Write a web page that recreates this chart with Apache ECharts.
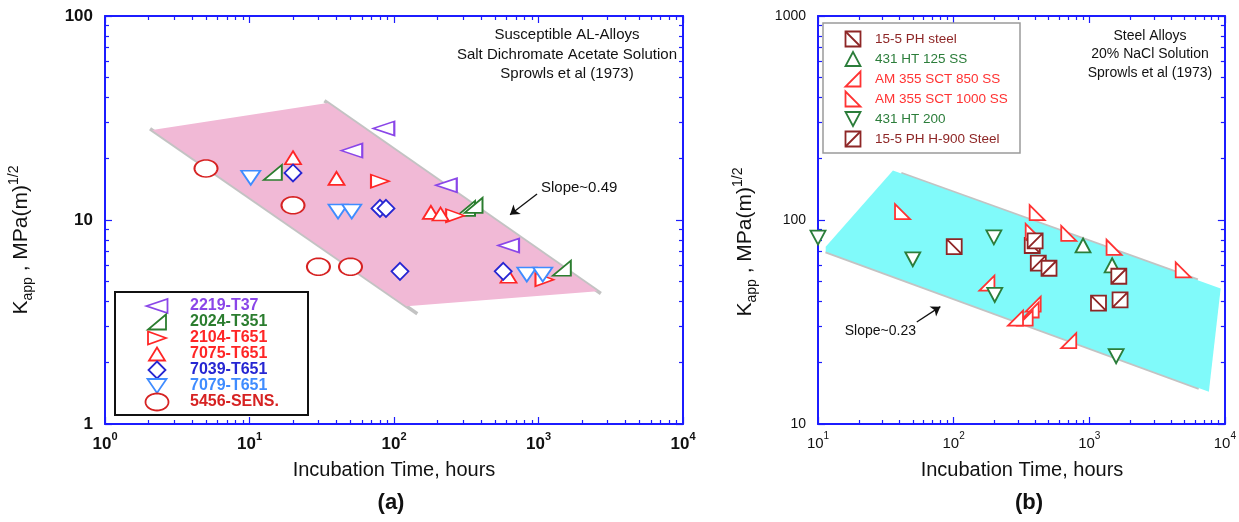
<!DOCTYPE html>
<html>
<head>
<meta charset="utf-8">
<title>Incubation time vs apparent stress intensity</title>
<script src="https://cdn.jsdelivr.net/npm/echarts@6.0.0/dist/echarts.min.js"></script>
<style>
html, body { margin: 0; padding: 0; background: #ffffff; }
#chart { width: 1239px; height: 522px; }
</style>
</head>
<body>
<div id="chart"></div>
<script>
// ---------- Panel (a): susceptible Al alloys, salt dichromate acetate ----------
// incubation time (hours) and K_app (MPa m^1/2)
const al2219T37_t = [85, 51, 230, 620];
const al2219T37_k = [28.1, 21.9, 14.8, 7.5];
const al2024T351_t = [14.5, 315, 355, 1450];
const al2024T351_k = [17.1, 11.4, 11.8, 5.8];
const al2104T651_t = [80, 265, 1100];
const al2104T651_k = [15.5, 10.5, 5.1];
const al7075T651_t = [20, 40, 180, 210, 620];
const al7075T651_k = [20.2, 16.0, 10.9, 10.7, 5.3];
const al7039T651_t = [20, 80, 88, 110, 570];
const al7039T651_k = [17.0, 11.4, 11.4, 5.6, 5.6];
const al7079T651_t = [10.2, 41, 51, 830, 1070];
const al7079T651_k = [16.1, 11.0, 11.0, 5.4, 5.4];
const al5456_t = [5, 20, 30, 50];
const al5456_k = [17.9, 11.8, 5.9, 5.9];

// ---------- Panel (b): steels, 20% NaCl ----------
const ph155_t = [101, 380, 1170];
const ph155_k = [74, 75, 39.1];
const ht431c125_t = [900, 1475];
const ht431c125_k = [75, 60];
const am355c850_t = [176, 386, 373, 337, 286, 706];
const am355c850_k = [49, 38.7, 36.2, 33, 33, 25.6];
const am355c1000_t = [42, 413, 386, 706, 1524, 4930];
const am355c1000_k = [110, 108.6, 88, 86, 73.5, 57];
const ht431c200_t = [10, 50, 198, 201, 1578];
const ht431c200_k = [82, 64.2, 82.2, 42.9, 21.5];
const ph155h900_t = [399, 421, 505, 1652, 1687];
const ph155h900_k = [79, 61.4, 58, 53, 40.6];

// ---------- scatter bands (vertices) and their edge lines ----------
const bandA_t = [2.12, 34.7, 2564, 122];
const bandA_k = [27.6, 37.5, 4.47, 3.78];
const edgeA1_t = [33, 2700];
const edgeA1_k = [38.4, 4.36];
const edgeA2_t = [2.05, 145];
const edgeA2_k = [28.0, 3.47];
const bandB_t = [35.7, 11.4, 11.4, 7620, 9310];
const bandB_k = [174.6, 74, 70, 14.4, 46.2];
const edgeB1_t = [41, 6300];
const edgeB1_k = [168.8, 50.7];
const edgeB2_t = [11.4, 6440];
const edgeB2_k = [70, 15.0];

// slope arrows: [tail, head]
const arrowA_t = [977, 635];
const arrowA_k = [13.4, 10.6];
const arrowB_t = [53.5, 79.8];
const arrowB_k = [31.6, 37.6];

// ---------- tick values ----------
const tickMajorAx = [1, 10, 100, 1000, 10000];
const tickMinorAx = [2, 3, 4, 5, 6, 7, 8, 9, 20, 30, 40, 50, 60, 70, 80, 90,
  200, 300, 400, 500, 600, 700, 800, 900, 2000, 3000, 4000, 5000, 6000, 7000, 8000, 9000];
const tickMajorAy = [1, 10, 100];
const tickMinorAy = [2, 3, 4, 5, 6, 7, 8, 9, 20, 30, 40, 50, 60, 70, 80, 90];
const tickMajorBx = [10, 100, 1000, 10000];
const tickMinorBx = [20, 30, 40, 50, 60, 70, 80, 90, 200, 300, 400, 500, 600, 700, 800, 900,
  2000, 3000, 4000, 5000, 6000, 7000, 8000, 9000];
const tickMajorBy = [10, 100, 1000];
const tickMinorBy = [20, 30, 40, 50, 60, 70, 80, 90, 200, 300, 400, 500, 600, 700, 800, 900];

// ---------- text ----------
const notesA = ['Susceptible AL-Alloys', 'Salt Dichromate Acetate Solution', 'Sprowls et al (1973)'];
const notesB = ['Steel Alloys', '20% NaCl Solution', 'Sprowls et al (1973)'];
const slopeA = 'Slope~0.49';
const slopeB = 'Slope~0.23';
const xTitle = 'Incubation Time, hours';

// ---------- styling ----------
const FONT = '"Liberation Sans", Arial, Helvetica, sans-serif';
const NARROW = '"Liberation Sans Narrow", "Liberation Sans", Arial, sans-serif';
const AXIS_BLUE = '#1c1cff';

// marker outlines in a unit box: outline polygon plus an optional inner stroke
const ellipsePts = Array.from({ length: 36 }, (_, i) => {
  const a = i / 36 * Math.PI * 2;
  return [0.5 + 0.5 * Math.cos(a), 0.5 + 0.5 * Math.sin(a)];
});
const SHAPES = {
  left: { poly: [[0, 0.5], [1, 0], [1, 1]] },
  right: { poly: [[1, 0.5], [0, 0], [0, 1]] },
  up: { poly: [[0.5, 0], [1, 1], [0, 1]] },
  down: { poly: [[0, 0], [1, 0], [0.5, 1]] },
  diamond: { poly: [[0.5, 0], [1, 0.5], [0.5, 1], [0, 0.5]] },
  ellipse: { poly: ellipsePts },
  wedgeR: { poly: [[0, 1], [1, 1], [1, 0]] },
  wedgeL: { poly: [[0, 0], [0, 1], [1, 1]] },
  boxDown: { poly: [[0, 0], [1, 0], [1, 1], [0, 1]], diag: [[0, 0], [1, 1]] },
  boxUp: { poly: [[0, 0], [1, 0], [1, 1], [0, 1]], diag: [[0, 1], [1, 0]] }
};
// the same outlines as SVG path strings for the scatter symbols
function shapePath(name) {
  const s = SHAPES[name];
  const f = p => (p[0] * 10).toFixed(3) + ',' + (p[1] * 10).toFixed(3);
  let d = 'M' + s.poly.map(f).join(' L') + ' Z';
  if (s.diag) d += ' M' + f(s.diag[0]) + ' L' + f(s.diag[1]);
  return 'path://' + d;
}

const groupsA = [
  { name: '2219-T37', t: al2219T37_t, k: al2219T37_k, color: '#8a46e8', shape: 'left', size: [21, 14] },
  { name: '2024-T351', t: al2024T351_t, k: al2024T351_k, color: '#2b7d2f', shape: 'wedgeR', size: [18, 15] },
  { name: '2104-T651', t: al2104T651_t, k: al2104T651_k, color: '#ff2626', shape: 'right', size: [18, 13] },
  { name: '7075-T651', t: al7075T651_t, k: al7075T651_k, color: '#ff2626', shape: 'up', size: [16, 13] },
  { name: '7039-T651', t: al7039T651_t, k: al7039T651_k, color: '#2626d2', shape: 'diamond', size: [17, 17] },
  { name: '7079-T651', t: al7079T651_t, k: al7079T651_k, color: '#3f8cff', shape: 'down', size: [19, 14] },
  { name: '5456-SENS.', t: al5456_t, k: al5456_k, color: '#d62222', shape: 'ellipse', size: [23, 17] }
];
const groupsB = [
  { name: '15-5 PH steel', t: ph155_t, k: ph155_k, color: '#8e2626', shape: 'boxDown', size: [15, 15] },
  { name: '431 HT 125 SS', t: ht431c125_t, k: ht431c125_k, color: '#2b7d3a', shape: 'up', size: [15, 14] },
  { name: 'AM 355 SCT 850 SS', t: am355c850_t, k: am355c850_k, color: '#ff3333', shape: 'wedgeR', size: [15, 15] },
  { name: 'AM 355 SCT 1000 SS', t: am355c1000_t, k: am355c1000_k, color: '#ff3333', shape: 'wedgeL', size: [15, 15] },
  { name: '431 HT 200', t: ht431c200_t, k: ht431c200_k, color: '#2b7d3a', shape: 'down', size: [15, 14] },
  { name: '15-5 PH H-900 Steel', t: ph155h900_t, k: ph155h900_k, color: '#8e2626', shape: 'boxUp', size: [15, 15] }
];

const zip = (xs, ys) => xs.map((x, i) => [x, ys[i]]);

// four log axes per side: main (line + major ticks + labels), minor ticks, mirrored major, mirrored minor
function logAxes(grid, min, max, major, minor, posMain, posMirror, label) {
  const common = { type: 'log', logBase: 10, gridIndex: grid, min: min, max: max, splitLine: { show: false } };
  const line = { show: true, onZero: false, lineStyle: { color: AXIS_BLUE, width: 2 } };
  const tick = (vals, len) => ({ show: true, inside: true, length: len, customValues: vals,
    lineStyle: { color: AXIS_BLUE, width: 1.2 } });
  return [
    Object.assign({}, common, { position: posMain, axisLine: line, axisTick: tick(major, 7), axisLabel: label }),
    Object.assign({}, common, { position: posMain, axisLine: { show: false }, axisTick: tick(minor, 4), axisLabel: { show: false } }),
    Object.assign({}, common, { position: posMirror, axisLine: line, axisTick: tick(major, 7), axisLabel: { show: false } }),
    Object.assign({}, common, { position: posMirror, axisLine: { show: false }, axisTick: tick(minor, 4), axisLabel: { show: false } })
  ];
}

function powerLabel(values, size, supSize, weight, family) {
  return {
    show: true, margin: 7, customValues: values,
    formatter: v => '{b|10}{e|' + Math.round(Math.log10(v)) + '}',
    rich: {
      b: { fontSize: size, fontWeight: weight, fontFamily: family, color: '#111', lineHeight: size + 5, verticalAlign: 'bottom' },
      e: { fontSize: supSize, fontWeight: weight, fontFamily: family, color: '#111', lineHeight: supSize, verticalAlign: 'top' }
    }
  };
}
function plainLabel(values, size, weight, family) {
  return { show: true, margin: 12, customValues: values, fontSize: size, fontWeight: weight,
    fontFamily: family, color: '#111', formatter: v => String(Math.round(v)) };
}

function bandSeries(ax, ts, ks, fill) {
  return {
    type: 'custom', xAxisIndex: ax, yAxisIndex: ax, z: 2, silent: true, animation: false,
    data: zip(ts, ks),
    renderItem: (params, api) => params.dataIndex !== 0 ? null : {
      type: 'polygon',
      shape: { points: ts.map((t, i) => api.coord([t, ks[i]])) },
      style: { fill: fill }
    }
  };
}
function edgeSeries(ax, ts, ks) {
  return { type: 'line', xAxisIndex: ax, yAxisIndex: ax, z: 1, silent: true, animation: false,
    symbol: 'none', data: zip(ts, ks), lineStyle: { color: '#c3c3c3', width: 3.5 } };
}
function arrowSeries(ax, ts, ks) {
  return {
    type: 'line', xAxisIndex: ax, yAxisIndex: ax, z: 5, silent: true, animation: false, data: [],
    markLine: {
      silent: true, animation: false, symbol: ['none', 'arrow'], symbolSize: 9,
      label: { show: false }, lineStyle: { color: '#111', width: 1.3, type: 'solid' },
      data: [[{ coord: [ts[0], ks[0]] }, { coord: [ts[1], ks[1]] }]]
    }
  };
}
function markerSeries(ax, g) {
  return {
    type: 'scatter', name: g.name, xAxisIndex: ax, yAxisIndex: ax, z: 4, clip: false, silent: true,
    animation: false, data: zip(g.t, g.k), symbol: shapePath(g.shape), symbolSize: g.size,
    symbolKeepAspect: false,
    itemStyle: { color: '#ffffff', borderColor: g.color, borderWidth: 1.8, opacity: 1 }
  };
}

// boxed key drawn next to the markers it describes
function keyBox(box, groups, cfg) {
  const els = [{ type: 'rect', z: 20, shape: box,
    style: { fill: '#ffffff', stroke: cfg.border, lineWidth: cfg.borderWidth } }];
  groups.forEach((g, i) => {
    const cy = cfg.y0 + i * cfg.dy;
    const w = g.size[0], h = g.size[1];
    const x0 = cfg.symX - w / 2, y0 = cy - h / 2;
    const s = SHAPES[g.shape];
    const place = p => [x0 + p[0] * w, y0 + p[1] * h];
    els.push({ type: 'polygon', z: 21, shape: { points: s.poly.map(place) },
      style: { fill: '#ffffff', stroke: g.color, lineWidth: 1.8 } });
    if (s.diag) {
      const a = place(s.diag[0]), b = place(s.diag[1]);
      els.push({ type: 'line', z: 22, shape: { x1: a[0], y1: a[1], x2: b[0], y2: b[1] },
        style: { stroke: g.color, lineWidth: 1.8 } });
    }
    els.push({ type: 'text', z: 21, x: cfg.textX, y: cy,
      style: { text: g.name, fill: g.color, fontSize: cfg.fontSize, fontWeight: cfg.fontWeight,
        fontFamily: cfg.fontFamily, align: 'left', verticalAlign: 'middle' } });
  });
  return els;
}

function textLines(lines, cx, y0, dy, size, family) {
  return lines.map((s, i) => ({ type: 'text', z: 15, x: cx, y: y0 + i * dy,
    style: { text: s, fill: '#111', fontSize: size, fontFamily: family, align: 'center', verticalAlign: 'middle' } }));
}

function yTitle(x, y) {
  return { type: 'text', z: 15, x: x, y: y, rotation: Math.PI / 2,
    style: {
      text: '{k|K}{s|app}{k| , MPa(m)}{p|1/2}', fill: '#111', align: 'center', verticalAlign: 'middle',
      rich: {
        k: { fontSize: 21, lineHeight: 28, fontFamily: FONT, fill: '#111' },
        s: { fontSize: 14, lineHeight: 14, fontFamily: FONT, verticalAlign: 'bottom', fill: '#111' },
        p: { fontSize: 14, lineHeight: 14, fontFamily: FONT, verticalAlign: 'top', fill: '#111' }
      }
    } };
}

const graphics = [].concat(
  textLines(notesA, 567, 35, 19.5, 15, FONT),
  textLines(notesB, 1150, 36, 18.5, 14, FONT),
  [
    { type: 'text', z: 15, x: 541, y: 188, style: { text: slopeA, fill: '#111', fontSize: 15, fontFamily: FONT, align: 'left', verticalAlign: 'middle' } },
    { type: 'text', z: 15, x: 916, y: 331, style: { text: slopeB, fill: '#111', fontSize: 14, fontFamily: FONT, align: 'right', verticalAlign: 'middle' } },
    { type: 'text', z: 15, x: 394, y: 470, style: { text: xTitle, fill: '#111', fontSize: 20, fontFamily: FONT, align: 'center', verticalAlign: 'middle' } },
    { type: 'text', z: 15, x: 1022, y: 470, style: { text: xTitle, fill: '#111', fontSize: 20, fontFamily: FONT, align: 'center', verticalAlign: 'middle' } },
    { type: 'text', z: 15, x: 391, y: 503, style: { text: '(a)', fill: '#111', fontSize: 22, fontWeight: 'bold', fontFamily: FONT, align: 'center', verticalAlign: 'middle' } },
    { type: 'text', z: 15, x: 1029, y: 503, style: { text: '(b)', fill: '#111', fontSize: 22, fontWeight: 'bold', fontFamily: FONT, align: 'center', verticalAlign: 'middle' } },
    yTitle(21, 240),
    yTitle(745, 242)
  ],
  keyBox({ x: 115, y: 292, width: 193, height: 123 }, groupsA,
    { border: '#111', borderWidth: 2, symX: 157, textX: 190, y0: 306, dy: 16,
      fontSize: 16, fontWeight: 'bold', fontFamily: FONT }),
  keyBox({ x: 823, y: 23, width: 197, height: 130 }, groupsB,
    { border: '#9a9a9a', borderWidth: 1.5, symX: 853, textX: 875, y0: 39, dy: 20,
      fontSize: 13.5, fontWeight: 'normal', fontFamily: FONT })
);

const option = {
  animation: false,
  backgroundColor: '#ffffff',
  grid: [
    { left: 105, top: 16, width: 578, height: 408 },
    { left: 818, top: 16, width: 408, height: 408 }
  ],
  xAxis: [].concat(
    logAxes(0, 1, 10000, tickMajorAx, tickMinorAx, 'bottom', 'top', powerLabel(tickMajorAx, 17, 11, 'bold', FONT)),
    logAxes(1, 10, 10000, tickMajorBx, tickMinorBx, 'bottom', 'top', powerLabel(tickMajorBx, 15, 10, 'normal', NARROW))
  ),
  yAxis: [].concat(
    logAxes(0, 1, 100, tickMajorAy, tickMinorAy, 'left', 'right', plainLabel(tickMajorAy, 17, 'bold', FONT)),
    logAxes(1, 10, 1000, tickMajorBy, tickMinorBy, 'left', 'right', plainLabel(tickMajorBy, 14, 'normal', NARROW))
  ),
  series: [].concat(
    [edgeSeries(0, edgeA1_t, edgeA1_k), edgeSeries(0, edgeA2_t, edgeA2_k), bandSeries(0, bandA_t, bandA_k, '#f1b9d6'), arrowSeries(0, arrowA_t, arrowA_k)],
    groupsA.map(g => markerSeries(0, g)),
    [edgeSeries(4, edgeB1_t, edgeB1_k), edgeSeries(4, edgeB2_t, edgeB2_k), bandSeries(4, bandB_t, bandB_k, '#80fafa'), arrowSeries(4, arrowB_t, arrowB_k)],
    groupsB.map(g => markerSeries(4, g))
  ),
  graphic: graphics
};

const chart = echarts.init(document.getElementById('chart'));
chart.setOption(option);
</script>
</body>
</html>
